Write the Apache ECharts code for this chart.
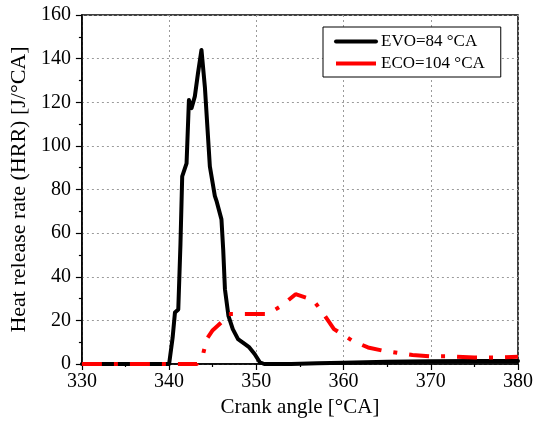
<!DOCTYPE html>
<html>
<head>
<meta charset="utf-8">
<script src="https://cdn.jsdelivr.net/npm/echarts@6/dist/echarts.min.js"></script>
<style>
  html, body { margin: 0; padding: 0; background: #fff; }
  #chart { width: 536px; height: 423px; }
</style>
</head>
<body>
<div id="chart"></div>
<script>
// Crank angle [°CA] and heat release rate [J/°CA] for the two valve timings
var evoAngle = [330, 335, 340, 340.1, 340.4, 340.67, 341.05, 341.3, 341.5, 342.0, 342.27, 342.57, 342.95, 343.3, 343.71, 344.1, 344.67, 345.24, 345.43, 346.0, 346.2, 346.4, 346.8, 347.3, 347.9, 348.7, 349.2, 349.8, 350.4, 350.9, 354, 357, 360, 365, 370, 375, 380];
var evoHRR   = [0, 0, 0, 0, 12, 23.6, 25, 55, 86, 92, 121, 117.3, 122.7, 133, 144, 127, 90.6, 77.1, 74.8, 66.3, 52.6, 34.3, 22.1, 16, 11.4, 9.1, 7.6, 4.6, 0.8, 0, 0, 0.3, 0.6, 1.0, 1.3, 1.4, 1.4];

var ecoAngle = [330, 340, 343.2, 343.9, 344.3, 345.0, 346.2, 346.8, 351.3, 352.9, 354.5, 356.5, 357.6, 358.9, 361.0, 362.8, 364.5, 367.9, 370, 372.3, 375, 378, 380];
var ecoHRR   = [0, 0, 0, 4.6, 11.4, 15.5, 19.8, 22.9, 22.9, 26.7, 32, 29.4, 23.6, 16, 10.7, 7.6, 6.1, 4.1, 3.5, 3.5, 3.0, 3.0, 3.3];

var seriesNames = ['EVO=84 °CA', 'ECO=104 °CA'];
var seriesColors = ['#000000', '#ff0000'];
var xTitle = 'Crank angle [°CA]';
var yTitle = 'Heat release rate (HRR) [J/°CA]';

function pairs(xs, ys) {
  return xs.map(function (x, i) { return [x, ys[i]]; });
}

var serif = "'Liberation Serif', 'Times New Roman', serif";
var gridLine = { show: true, lineStyle: { color: '#9a9a9a', width: 1, type: [2, 3] } };
var tickStyle = { color: '#000', width: 1.2 };

var chart = echarts.init(document.getElementById('chart'), null, { renderer: 'canvas' });
chart.setOption({
  animation: false,
  backgroundColor: '#fff',
  textStyle: { fontFamily: serif },
  grid: {
    left: 80, right: 18, top: 15, bottom: 58,
    show: true, borderColor: '#000', borderWidth: 1.5, backgroundColor: 'transparent'
  },
  legend: {
    orient: 'vertical',
    left: 323, top: 27,
    padding: [6, 16, 5, 11],
    itemGap: 5,
    itemWidth: 40, itemHeight: 4,
    // line-only keys (series have no symbols), drawn as unbroken strokes
    icon: 'inherit',
    lineStyle: { type: [100, 0], width: 4 },
    backgroundColor: '#fff',
    borderColor: '#000', borderWidth: 1,
    textStyle: { fontFamily: serif, fontSize: 17, lineHeight: 17, color: '#000' },
    data: seriesNames
  },
  xAxis: {
    type: 'value', min: 330, max: 380, interval: 10,
    name: xTitle, nameLocation: 'middle', nameGap: 33,
    nameTextStyle: { fontFamily: serif, fontSize: 21, color: '#000' },
    axisLine: { show: true, lineStyle: { color: '#000', width: 1.5 } },
    axisTick: { show: true, inside: false, length: 6, lineStyle: tickStyle },
    minorTick: { show: true, splitNumber: 2, length: 3, lineStyle: tickStyle },
    axisLabel: { fontFamily: serif, fontSize: 20, color: '#000', margin: 8 },
    splitLine: gridLine
  },
  yAxis: {
    type: 'value', min: 0, max: 160, interval: 20,
    name: yTitle, nameLocation: 'middle', nameGap: 45,
    nameTextStyle: { fontFamily: serif, fontSize: 22, color: '#000' },
    axisLine: { show: true, lineStyle: { color: '#000', width: 1.5 } },
    axisTick: { show: true, inside: false, length: 6, lineStyle: tickStyle },
    minorTick: { show: true, splitNumber: 2, length: 3, lineStyle: tickStyle },
    axisLabel: { fontFamily: serif, fontSize: 20, color: '#000', margin: 11 },
    splitLine: gridLine
  },
  series: [
    {
      name: seriesNames[0], type: 'line', symbol: 'none', showSymbol: false, smooth: false,
      data: pairs(evoAngle, evoHRR),
      lineStyle: { color: seriesColors[0], width: 4, join: 'round', cap: 'round' },
      itemStyle: { color: seriesColors[0] },
      z: 2
    },
    {
      name: seriesNames[1], type: 'line', symbol: 'none', showSymbol: false, smooth: false,
      data: pairs(ecoAngle, ecoHRR),
      lineStyle: { color: seriesColors[1], width: 4, type: [20, 12, 4, 12] },
      itemStyle: { color: seriesColors[1] },
      z: 3
    }
  ]
});
</script>
</body>
</html>
